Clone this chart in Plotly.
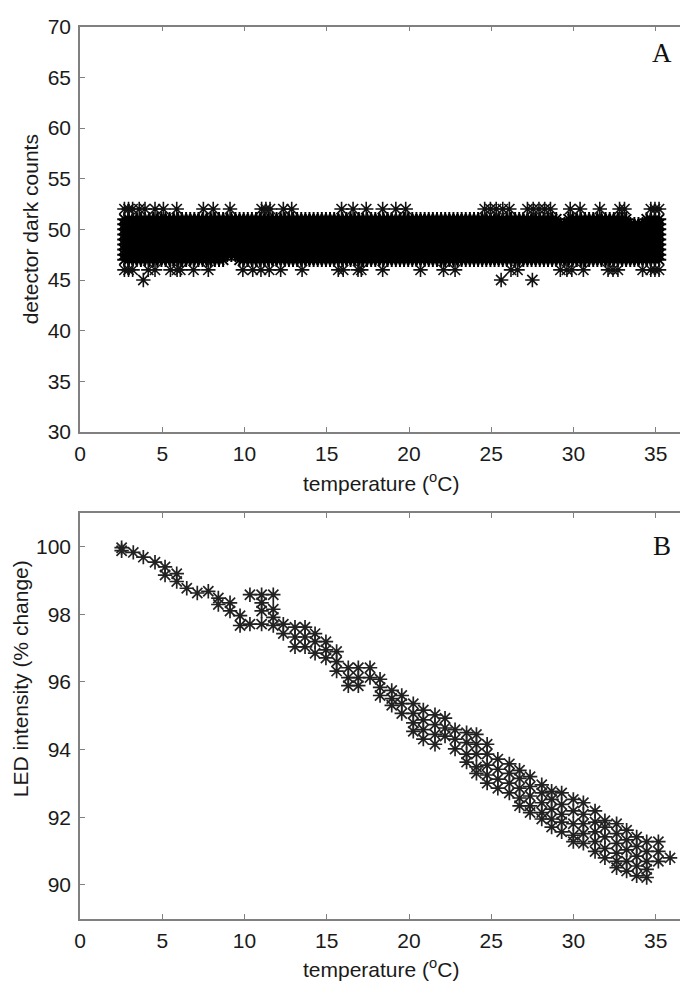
import plotly.graph_objects as go

# ---------------- Panel A data: detector dark counts vs temperature ----------------
# dense core band: temperature readings present at every core count level
core_temps = [2.7, 2.95, 3.2, 3.45, 3.7, 3.95, 4.2, 4.45, 4.7, 4.95, 5.2, 5.45, 5.7, 5.95,
              6.2, 6.45, 6.7, 6.95, 7.2, 7.45, 7.7, 7.95, 8.2, 8.45, 8.7, 8.95, 9.2, 9.45,
              9.7, 9.95, 10.2, 10.45, 10.7, 10.95, 11.2, 11.45, 11.7, 11.95, 12.2, 12.45,
              12.7, 12.95, 13.2, 13.45, 13.7, 13.95, 14.2, 14.45, 14.7, 14.95, 15.2, 15.45,
              15.7, 15.95, 16.2, 16.45, 16.7, 16.95, 17.2, 17.45, 17.7, 17.95, 18.2, 18.45,
              18.7, 18.95, 19.2, 19.45, 19.7, 19.95, 20.2, 20.45, 20.7, 20.95, 21.2, 21.45,
              21.7, 21.95, 22.2, 22.45, 22.7, 22.95, 23.2, 23.45, 23.7, 23.95, 24.2, 24.45,
              24.7, 24.95, 25.2, 25.45, 25.7, 25.95, 26.2, 26.45, 26.7, 26.95, 27.2, 27.45,
              27.7, 27.95, 28.2, 28.45, 28.7, 28.95, 29.2, 29.45, 29.7, 29.95, 30.2, 30.45,
              30.7, 30.95, 31.2, 31.45, 31.7, 31.95, 32.2, 32.45, 32.7, 32.95, 33.2, 33.45,
              33.7, 33.95, 34.2, 34.45, 34.7, 34.95, 35.2]
core_counts = [47, 47.5, 48, 48.5, 49, 49.5, 50, 50.5, 51]
# temperature ranges where a core level has no readings (count, t_from, t_to)
core_gaps = [(47, 8.9, 9.5), (51, 29.0, 29.6), (51, 33.3, 34.3)]

# sparse levels
temps_52 = [2.7, 2.95, 3.2, 3.6, 3.95, 4.56, 5.07, 5.88, 7.5, 8.1, 9.12, 11.04, 11.3,
            11.55, 12.36, 12.87, 15.9, 16.6, 17.4, 18.4, 19.2, 19.8, 24.6, 24.95, 25.3,
            25.7, 26.1, 27.2, 27.55, 27.9, 28.25, 28.6, 29.8, 30.4, 31.6, 32.8, 33.1,
            34.7, 34.95, 35.2]
temps_46 = [2.7, 2.95, 3.2, 4.15, 4.56, 5.5, 5.9, 6.1, 6.9, 7.8, 9.9, 10.5, 11.0, 11.5,
            12.2, 13.5, 15.7, 16.0, 16.9, 17.1, 18.4, 20.7, 22.1, 22.8, 26.2, 26.6, 29.2,
            29.6, 29.9, 30.6, 32.1, 32.4, 32.7, 34.2, 34.7, 34.95, 35.2]
temps_45 = [3.85, 25.6, 27.5]

# ---------------- Panel B data: LED intensity vs temperature ----------------
led_columns = [
    (2.53, [99.97, 99.88]),
    (3.24, [99.83]),
    (3.85, [99.69]),
    (4.56, [99.54]),
    (5.17, [99.40, 99.16]),
    (5.88, [99.20, 98.97]),
    (6.49, [98.77]),
    (7.13, [98.63]),
    (7.80, [98.68]),
    (8.41, [98.48, 98.29]),
    (9.12, [98.34, 98.10]),
    (9.73, [97.96, 97.67]),
    (10.33, [98.58, 97.71]),
    (11.04, [98.58, 98.34, 98.10, 97.71]),
    (11.75, [98.58, 98.15, 97.91, 97.67]),
    (12.36, [97.71, 97.43]),
    (13.07, [97.62, 97.33, 97.04]),
    (13.68, [97.62, 97.33, 97.04]),
    (14.29, [97.43, 97.19, 96.85]),
    (14.95, [97.19, 96.95, 96.71]),
    (15.60, [96.90, 96.60, 96.32]),
    (16.31, [96.42, 96.13, 95.89]),
    (16.92, [96.42, 96.13, 95.89]),
    (17.63, [96.42, 96.13]),
    (18.24, [96.08, 95.84, 95.60]),
    (18.95, [95.75, 95.51, 95.31]),
    (19.56, [95.60, 95.36, 95.07]),
    (20.26, [95.36, 95.07, 94.79, 94.54]),
    (20.87, [95.17, 94.88, 94.59, 94.31]),
    (21.58, [95.03, 94.74, 94.45, 94.16]),
    (22.19, [94.93, 94.64, 94.40]),
    (22.80, [94.59, 94.31, 94.02]),
    (23.50, [94.50, 94.21, 93.87, 93.63]),
    (24.10, [94.45, 94.16, 93.87, 93.49, 93.30]),
    (24.75, [94.16, 93.87, 93.54, 93.25, 93.01]),
    (25.40, [93.72, 93.42, 93.13, 92.86]),
    (26.10, [93.58, 93.30, 93.01, 92.72]),
    (26.72, [93.39, 93.15, 92.86, 92.57, 92.34]),
    (27.36, [93.20, 92.91, 92.63, 92.34, 92.14]),
    (28.07, [92.96, 92.72, 92.43, 92.14, 91.95]),
    (28.67, [92.77, 92.53, 92.24, 91.95, 91.71]),
    (29.28, [92.72, 92.38, 92.09, 91.86, 91.57]),
    (29.99, [92.53, 92.19, 91.81, 91.47, 91.28]),
    (30.60, [92.43, 92.09, 91.81, 91.52, 91.23]),
    (31.31, [92.19, 91.86, 91.57, 91.28, 90.99]),
    (31.91, [91.90, 91.71, 91.42, 91.08, 90.80]),
    (32.62, [91.81, 91.52, 91.23, 90.94, 90.70, 90.51]),
    (33.23, [91.62, 91.33, 91.04, 90.70, 90.41]),
    (33.84, [91.42, 91.14, 90.85, 90.56, 90.27]),
    (34.45, [91.28, 90.99, 90.70, 90.46, 90.22]),
    (35.16, [91.28, 90.99, 90.70]),
    (35.87, [90.80]),
]

x_ticks = [0, 5, 10, 15, 20, 25, 30, 35]
y1_ticks = [30, 35, 40, 45, 50, 55, 60, 65, 70]
y2_ticks = [90, 92, 94, 96, 98, 100]

# ---------------- build point lists ----------------
core_x, core_y = [], []
for c in core_counts:
    for t in core_temps:
        if any(g[0] == c and g[1] <= t <= g[2] for g in core_gaps):
            continue
        core_x.append(t)
        core_y.append(c)
sp_x, sp_y = [], []
for lvl, temps in ((52, temps_52), (46, temps_46), (45, temps_45)):
    for t in temps:
        sp_x.append(t)
        sp_y.append(lvl)

b_x, b_y = [], []
for t, vals in led_columns:
    for v in vals:
        b_x.append(t)
        b_y.append(v)

W, H = 680, 993
fig = go.Figure()
fig.add_trace(go.Scatter(x=core_x, y=core_y, mode="markers", xaxis="x", yaxis="y",
                         marker=dict(symbol="asterisk-open", size=12, color="#000000",
                                     line=dict(color="#000000", width=2)),
                         showlegend=False, hoverinfo="skip"))
fig.add_trace(go.Scatter(x=sp_x, y=sp_y, mode="markers", xaxis="x", yaxis="y",
                         marker=dict(symbol="asterisk-open", size=12, color="#111111",
                                     line=dict(color="#111111", width=1.6)),
                         showlegend=False, hoverinfo="skip"))
fig.add_trace(go.Scatter(x=b_x, y=b_y, mode="markers", xaxis="x2", yaxis="y2",
                         marker=dict(symbol="asterisk-open", size=12, color="#222222",
                                     line=dict(color="#222222", width=1.7)),
                         showlegend=False, hoverinfo="skip"))

tick_font = dict(family="Liberation Sans, Arial, sans-serif", size=21, color="#1a1a1a")
axis_common = dict(showline=True, linecolor="#808080", linewidth=1.5, ticks="inside",
                   ticklen=5, tickwidth=1.2, tickcolor="#808080", showgrid=False,
                   zeroline=False, tickfont=tick_font)

x_range = [0, 600 / 16.45]
fig.update_layout(
    width=W, height=H,
    margin=dict(l=80, r=0, t=0, b=0),
    paper_bgcolor="white", plot_bgcolor="white",
    xaxis=dict(domain=[0, 1], range=x_range, anchor="y", tickvals=x_ticks,
               mirror="ticks", ticklabelstandoff=2, **axis_common),
    yaxis=dict(domain=[1 - 430 / H, 1 - 15 / H], range=[30, 70], anchor="x",
               tickvals=y1_ticks, ticklabelstandoff=3, **axis_common),
    xaxis2=dict(domain=[0, 1], range=x_range, anchor="y2", tickvals=x_ticks,
                mirror="ticks", ticklabelstandoff=2, **axis_common),
    yaxis2=dict(domain=[1 - 928.3 / H, 1 - 512.7 / H], range=[89, 101], anchor="x2",
                tickvals=y2_ticks, ticklabelstandoff=3, **axis_common),
)

title_font = dict(family="Liberation Sans, Arial, sans-serif", size=21, color="#1a1a1a")
label_font = dict(family="Liberation Serif, Times New Roman, serif", size=27, color="#111111")
fig.add_annotation(text="detector dark counts", textangle=-90, x=(30 - 80) / 600,
                   y=1 - 222.5 / H, xref="paper", yref="paper", xanchor="center",
                   yanchor="middle", showarrow=False, font=title_font)
fig.add_annotation(text="LED intensity (% change)", textangle=-90, x=(20 - 80) / 600,
                   y=1 - 683 / H, xref="paper", yref="paper", xanchor="center",
                   yanchor="middle", showarrow=False, font=title_font)
fig.add_annotation(text="temperature (<sup>o</sup>C)", x=0.502, y=1 - 481 / H,
                   xref="paper", yref="paper", xanchor="center", yanchor="middle",
                   showarrow=False, font=title_font)
fig.add_annotation(text="temperature (<sup>o</sup>C)", x=0.502, y=1 - 979 / H,
                   xref="paper", yref="paper", xanchor="center", yanchor="middle",
                   showarrow=False, font=title_font)
fig.add_annotation(text="A", x=(661.7 - 80) / 600, y=1 - 42 / H, xref="paper", yref="paper",
                   xanchor="center", yanchor="middle", showarrow=False, font=label_font)
fig.add_annotation(text="B", x=(661.7 - 80) / 600, y=1 - 546.5 / H, xref="paper",
                   yref="paper", xanchor="center", yanchor="middle", showarrow=False,
                   font=label_font)

fig.write_html("out.html", config={"displayModeBar": False},
               post_script="document.body.style.margin='0px';document.body.style.overflow='hidden';")
